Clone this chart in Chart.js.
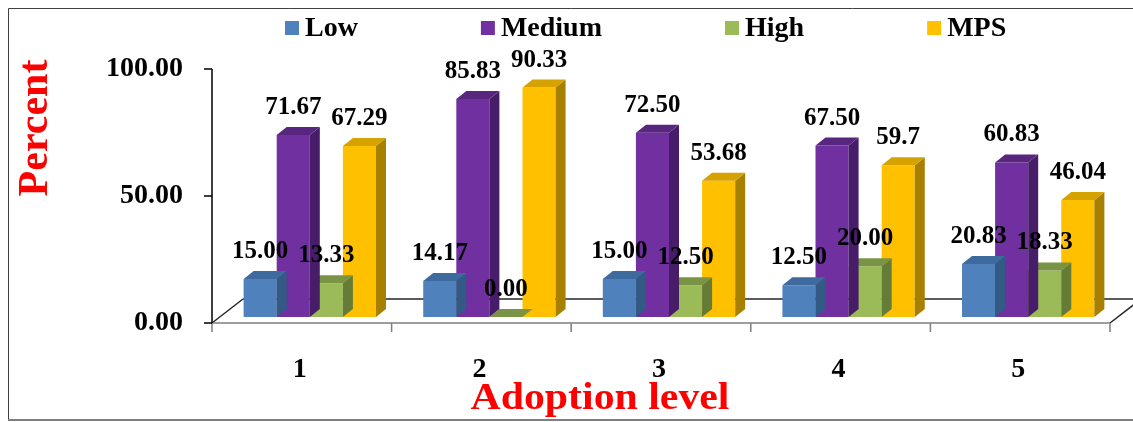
<!DOCTYPE html>
<html>
<head>
    <title>Adoption level</title>
    <script src="https://cdn.jsdelivr.net/npm/chart.js@4.4.0/dist/chart.umd.min.js"></script>
    <style>
        body { margin: 0; background: #fff; }
    </style>
</head>
<body>
    <canvas id="barChart" width="1133" height="422"></canvas>
<script>
    // datos
    var levels = ['1', '2', '3', '4', '5'];
    var seriesNames = ['Low', 'Medium', 'High', 'MPS'];
    var low = [15.00, 14.17, 15.00, 12.50, 20.83];
    var medium = [71.67, 85.83, 72.50, 67.50, 60.83];
    var high = [13.33, 0.00, 12.50, 20.00, 18.33];
    var mps = [67.29, 90.33, 53.68, 59.7, 46.04];
    var yMax = 100;
    var yStep = 50;
    var xTitle = 'Adoption level';
    var yTitle = 'Percent';

    var frontColors = ['#4F81BD', '#7030A0', '#9BBB59', '#FFC000'];
    var topColors = ['#3E6A9E', '#58267F', '#7A9446', '#D6A200'];
    var sideColors = ['#335985', '#471C68', '#657C37', '#A88000'];
    var serif = '"Liberation Serif", "Times New Roman", serif';
    var DX = 10, DY = 8;          // profundidad de cada barra
    var FX = 31, FY = 24;         // profundidad del piso

    function labelText(dsIndex, v) {
        // MPS se escribe tal cual (59.7), el resto con 2 decimales
        return dsIndex == 3 ? String(v) : v.toFixed(2);
    }

    var bars3d = {
        id: 'bars3d',
        beforeDatasetsDraw: function (chart) {
            var ctx = chart.ctx, a = chart.chartArea, y = chart.scales.y;
            var base = y.getPixelForValue(0);
            var fx = a.left - 8, fy = base + 6, fxr = a.right - 8;
            ctx.save();
            // piso
            ctx.lineWidth = 1.5;
            ctx.strokeStyle = '#262626';
            ctx.beginPath();
            ctx.moveTo(fx + FX, fy - FY); ctx.lineTo(chart.width + 20, fy - FY);
            ctx.moveTo(fx, fy); ctx.lineTo(fx + FX, fy - FY);
            ctx.moveTo(fxr, fy); ctx.lineTo(fxr + FX, fy - FY);
            ctx.stroke();
            ctx.strokeStyle = '#7f7f7f';
            ctx.beginPath();
            ctx.moveTo(fx, fy); ctx.lineTo(fxr, fy);
            var cw = (a.right - a.left) / levels.length;
            for (var i = 0; i <= levels.length; i++) {
                ctx.moveTo(fx + i * cw, fy); ctx.lineTo(fx + i * cw, fy + 9);
            }
            ctx.stroke();
            // eje y
            ctx.strokeStyle = '#000';
            ctx.beginPath();
            ctx.moveTo(fx, y.getPixelForValue(yMax) + 6); ctx.lineTo(fx, fy);
            for (var v = 0; v <= yMax; v += yStep) {
                ctx.moveTo(fx - 8, y.getPixelForValue(v) + 6); ctx.lineTo(fx, y.getPixelForValue(v) + 6);
            }
            ctx.stroke();
            ctx.restore();
        },
        afterDatasetDraw: function (chart, args) {
            var ctx = chart.ctx, i = args.index;
            ctx.save();
            args.meta.data.forEach(function (bar) {
                var p = bar.getProps(['x', 'y', 'base', 'width'], true);
                var l = p.x - p.width / 2, r = p.x + p.width / 2;
                var t = Math.min(p.y, p.base), b = Math.max(p.y, p.base);
                ctx.fillStyle = sideColors[i];
                ctx.beginPath();
                ctx.moveTo(r, t); ctx.lineTo(r + DX, t - DY); ctx.lineTo(r + DX, b - DY); ctx.lineTo(r, b);
                ctx.closePath(); ctx.fill();
                ctx.fillStyle = topColors[i];
                ctx.beginPath();
                ctx.moveTo(l, t); ctx.lineTo(l + DX, t - DY); ctx.lineTo(r + DX, t - DY); ctx.lineTo(r, t);
                ctx.closePath(); ctx.fill();
            });
            ctx.restore();
        },
        afterDatasetsDraw: function (chart) {
            var ctx = chart.ctx;
            ctx.save();
            ctx.font = 'bold 25px ' + serif;
            ctx.fillStyle = '#000';
            ctx.textAlign = 'center';
            ctx.textBaseline = 'alphabetic';
            chart.data.datasets.forEach(function (ds, i) {
                chart.getDatasetMeta(i).data.forEach(function (bar, j) {
                    ctx.fillText(labelText(i, ds.data[j]), bar.x, bar.y - 21);
                });
            });
            ctx.restore();
        },
        afterDraw: function (chart) {
            var ctx = chart.ctx, a = chart.chartArea;
            ctx.save();
            // leyenda
            ctx.font = 'bold 28px ' + serif;
            ctx.textBaseline = 'middle';
            ctx.textAlign = 'left';
            var x = a.left + 65;
            seriesNames.forEach(function (name, i) {
                ctx.fillStyle = frontColors[i];
                ctx.fillRect(x, 21, 14, 14);
                ctx.fillStyle = '#000';
                ctx.fillText(name, x + 20, 29);
                x += 20 + ctx.measureText(name).width + 123;
            });
            // titulos de ejes
            ctx.fillStyle = '#FF0000';
            ctx.textAlign = 'center';
            ctx.font = 'bold 38px ' + serif;
            ctx.save();
            ctx.translate(a.left + 380, 399);
            ctx.scale(1.1, 1);
            ctx.fillText(xTitle, 0, 0);
            ctx.restore();
            ctx.font = 'bold 42px ' + serif;
            ctx.save();
            ctx.translate(36, a.top + 65);
            ctx.rotate(-Math.PI / 2);
            ctx.fillText(yTitle, 0, 0);
            ctx.restore();
            // marco
            ctx.strokeStyle = '#404040';
            ctx.lineWidth = 1;
            ctx.beginPath();
            ctx.moveTo(chart.width + 5, 8.5); ctx.lineTo(8.5, 8.5); ctx.lineTo(8.5, 419);
            ctx.stroke();
            ctx.strokeStyle = '#7f7f7f';
            ctx.lineWidth = 2;
            ctx.beginPath();
            ctx.moveTo(8, 420); ctx.lineTo(chart.width + 5, 420);
            ctx.stroke();
            ctx.restore();
        }
    };

    var allData = [low, medium, high, mps];
    var ctxB = document.getElementById('barChart').getContext('2d');
    var myBarChart = new Chart(ctxB, {
        type: 'bar',
        data: {
            labels: levels,
            datasets: seriesNames.map(function (n, i) {
                return {
                    label: n,
                    data: allData[i],
                    backgroundColor: frontColors[i],
                    borderWidth: 0,
                    categoryPercentage: 0.737,
                    barPercentage: 1
                };
            })
        },
        options: {
            responsive: false,
            animation: false,
            layout: { padding: { top: 63, right: 15, bottom: 0, left: 0 } },
            plugins: {
                legend: { display: false },
                tooltip: { enabled: false }
            },
            scales: {
                x: {
                    grid: { display: false, drawTicks: false },
                    border: { display: false },
                    ticks: {
                        color: '#000',
                        font: { family: serif, size: 28, weight: 'bold' },
                        labelOffset: -10,
                        padding: 36
                    },
                    afterFit: function (s) { s.height = 105; }
                },
                y: {
                    min: 0,
                    max: yMax,
                    grid: { display: false, drawTicks: false },
                    border: { display: false },
                    ticks: {
                        stepSize: yStep,
                        color: '#000',
                        font: { family: serif, size: 28, weight: 'bold' },
                        labelOffset: 6,
                        padding: 37,
                        callback: function (v) { return v.toFixed(2); }
                    },
                    afterFit: function (s) { s.width = 220; }
                }
            }
        },
        plugins: [bars3d]
    });
</script>
</body>
</html>
